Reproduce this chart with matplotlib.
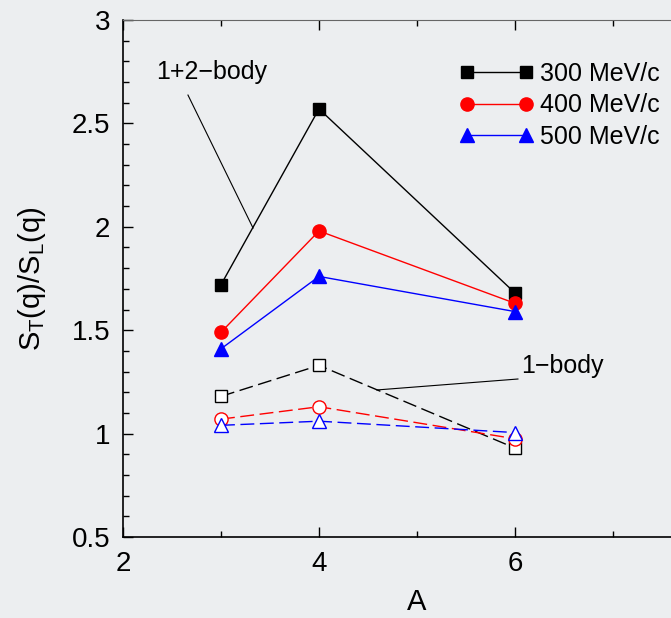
import numpy as np
import matplotlib
matplotlib.use('Agg')
from matplotlib import pyplot as plt
from matplotlib.ticker import MultipleLocator

plt.rcParams['font.family'] = ['Liberation Sans', 'DejaVu Sans']
plt.rcParams['mathtext.fontset'] = 'custom'
plt.rcParams['mathtext.rm'] = 'Liberation Sans'
plt.rcParams['mathtext.it'] = 'Liberation Sans'

# mass number A
A = [3, 4, 6]

# 1+2-body ratios S_T/S_L
two_body_300 = [1.72, 2.57, 1.68]
two_body_400 = [1.49, 1.98, 1.63]
two_body_500 = [1.41, 1.76, 1.59]

# 1-body ratios
one_body_300 = [1.18, 1.33, 0.93]
one_body_400 = [1.07, 1.13, 0.975]
one_body_500 = [1.04, 1.06, 1.005]

labels = ['300 MeV/c', '400 MeV/c', '500 MeV/c']
colors = ['black', '#ff0000', '#0000ff']
markers = ['s', 'o', '^']
msizes = [8, 9.5, 9.5]

bg = '#eceef0'
fig = plt.figure(figsize=(6.71, 6.18), dpi=100, facecolor=bg)
ax = fig.add_axes([123/671, 1 - 537/618, 588/671, 517/618], facecolor=bg)

# full lines, filled symbols (1+2-body)
for y, c, m, ms, lab in zip([two_body_300, two_body_400, two_body_500], colors, markers, msizes, labels):
    ax.plot(A, y, color=c, lw=1, marker=m, ms=ms, mfc=c, mec=c, label=lab, clip_on=False)

# dashed lines, open symbols (1-body)
for y, c, m, ms in zip([one_body_300, one_body_400, one_body_500], colors, markers, msizes):
    ax.plot(A, y, color=c, lw=1, ls=(0, (10, 4)), marker=m, ms=ms, mfc='white', mec=c, mew=1)

# annotation lines
ax.plot([2.663, 3.327], [2.637, 1.994], color='black', lw=0.8)
ax.text(2.9, 2.75, '1+2\u2212body', fontsize=18, ha='center', va='center')
ax.plot([6.03, 4.59], [1.264, 1.211], color='black', lw=0.8)
ax.text(6.48, 1.327, '1\u2212body', fontsize=18, ha='center', va='center')

ax.set_xlim(2, 8)
ax.set_ylim(0.5, 3)
ax.set_xticks([2, 4, 6])
ax.xaxis.set_minor_locator(MultipleLocator(1))
ax.yaxis.set_minor_locator(MultipleLocator(0.1))
ax.set_yticks([0.5, 1, 1.5, 2, 2.5, 3])
ax.set_yticklabels(['0.5', '1', '1.5', '2', '2.5', '3'])
ax.tick_params(which='both', direction='in', top=True, right=False, labelsize=20)
ax.tick_params(which='major', length=7, width=1)
ax.tick_params(which='minor', length=4, width=1)
ax.tick_params(axis='x', pad=10)
ax.tick_params(axis='y', pad=9)
ax.spines['top'].set_color('#666666')
ax.spines['right'].set_visible(False)
for s in ['left', 'bottom']:
    ax.spines[s].set_linewidth(1.2)

ax.set_xlabel('A', fontsize=21, labelpad=8)
ax.set_ylabel(r'$\mathrm{S_T(q)/S_L(q)}$', fontsize=21, labelpad=17)

ax.legend(loc='upper left', bbox_to_anchor=(459/671, 1 - 62/618), bbox_transform=fig.transFigure,
          frameon=False, fontsize=18, numpoints=2, handlelength=2.96, handletextpad=0.26,
          labelspacing=0.3, borderpad=0, borderaxespad=0)

plt.savefig('out.png', dpi=100, facecolor=bg)
